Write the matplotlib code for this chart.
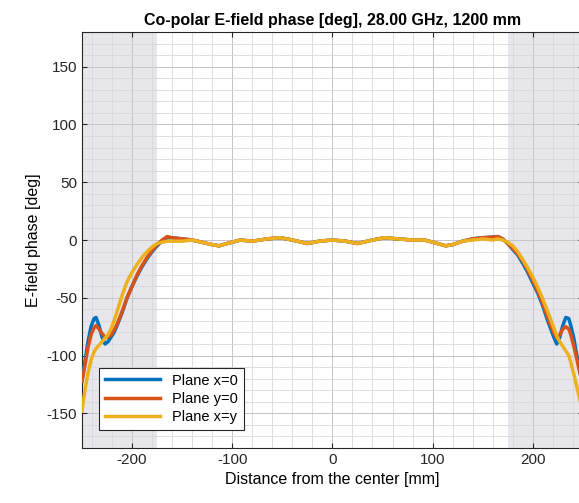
import matplotlib.pyplot as plt
from matplotlib.ticker import MultipleLocator

plt.rcParams['font.family'] = ['Liberation Sans', 'DejaVu Sans']
plt.rcParams['axes.unicode_minus'] = False

# sample positions along the cut [mm]
dist = [-250, -247, -244, -241, -238, -236, -233, -230, -227, -224, -221, -218, -215,
        -210, -205, -200, -195, -190, -185, -180, -175, -170, -165, -160,
        -150, -140, -130, -120, -113, -105, -92, -80, -65, -52, -40, -25, -13, 0,
        13, 25, 40, 52, 65, 80, 92, 105, 113, 120, 130, 140, 150,
        160, 165, 170, 175, 180, 185, 190, 195, 200, 205, 210, 215, 218, 221,
        224, 227, 230, 233, 236, 238, 241, 244, 247, 250]

phase_x0 = [-122, -105, -88, -75, -68, -67, -74, -84, -90, -88, -84, -80, -74,
            -63, -50, -40, -31, -23, -16, -10, -5, -1, 2, 2,
            1, 0, -2, -4, -5, -3, 0, -1, 1, 2, 0, -3, -1, 0,
            -1, -3, 0, 2, 1, 0, 0, -3, -5, -4, -1, 1, 2,
            2.5, 3, 1, -3, -8, -13, -20, -28, -37, -46, -57, -70, -77, -84,
            -90, -84, -74, -67, -68, -74, -85, -100, -112, -125]

phase_y0 = [-122, -108, -93, -82, -76, -74, -77, -81, -84, -84, -82, -78, -73,
            -62, -50, -40, -30, -22, -15, -9, -4, 0, 3, 2,
            1, 0, -2, -4, -5, -3, 0, -1, 1, 2, 0, -3, -1, 0,
            -1, -3, 0, 2, 1, 0, 0, -3, -5, -4, -1, 1, 2,
            2.5, 3, 1, -3, -7, -12, -18, -26, -35, -44, -55, -67, -74, -80,
            -85, -82, -77, -75, -77, -82, -92, -103, -115, -125]

phase_xy = [-148, -130, -115, -104, -97, -94, -91, -88, -85, -82, -77, -70, -62,
            -48, -36, -28, -21, -15, -10, -6, -3, -2, -1, -1,
            -1, 0, -2, -4, -5, -3, 0, -1, 1, 2, 0, -3, -1, 0,
            -1, -3, 0, 2, 1, 0, 0, -3, -5, -4, -1, 0, 1,
            0, 1, 0, -2, -5, -10, -17, -24, -32, -41, -51, -62, -69, -76,
            -83, -88, -92, -96, -100, -106, -116, -127, -138, -150]

fig = plt.figure(figsize=(5.79, 5.03), dpi=100)
ax = fig.add_axes([0.1416, 0.1093, 0.865, 0.827])

ax.axvspan(-250, -175, color='#e6e6eb', zorder=0, lw=0)
ax.axvspan(175, 250, color='#e6e6eb', zorder=0, lw=0)

ax.plot(dist, phase_x0, color='#0072BD', lw=2.5, label='Plane x=0', zorder=3)
ax.plot(dist, phase_y0, color='#D95319', lw=2.5, label='Plane y=0', zorder=3)
ax.plot(dist, phase_xy, color='#EDB120', lw=2.5, label='Plane x=y', zorder=3)

ax.set_xlim(-250, 250)
ax.set_ylim(-180, 180)
ax.xaxis.set_major_locator(MultipleLocator(100))
ax.xaxis.set_minor_locator(MultipleLocator(20))
ax.yaxis.set_major_locator(MultipleLocator(50))
ax.yaxis.set_minor_locator(MultipleLocator(10))
ax.set_axisbelow(True)
ax.grid(which='major', color='#c4c4c8', lw=0.7, zorder=1)
ax.grid(which='minor', color='#d8d8dc', lw=0.6, zorder=1)
ax.tick_params(which='both', direction='in', top=True, right=True, labelsize=11,
               colors='#262626')
ax.tick_params(which='minor', length=0)
for s in ax.spines.values():
    s.set_color('#262626')
    s.set_linewidth(0.8)

ax.set_title('Co-polar E-field phase [deg], 28.00 GHz, 1200 mm',
             fontsize=11.5, fontweight='bold', pad=5)
ax.set_xlabel('Distance from the center [mm]', fontsize=11.5)
ax.set_ylabel('E-field phase [deg]', fontsize=11.5)

leg = ax.legend(loc='lower left', bbox_to_anchor=(0.034, 0.043), borderaxespad=0,
                fancybox=False, framealpha=1, edgecolor='#262626',
                fontsize=10.5, handlelength=3.8, labelspacing=0.3)
leg.get_frame().set_linewidth(0.8)

fig.savefig('out.png', dpi=100)
